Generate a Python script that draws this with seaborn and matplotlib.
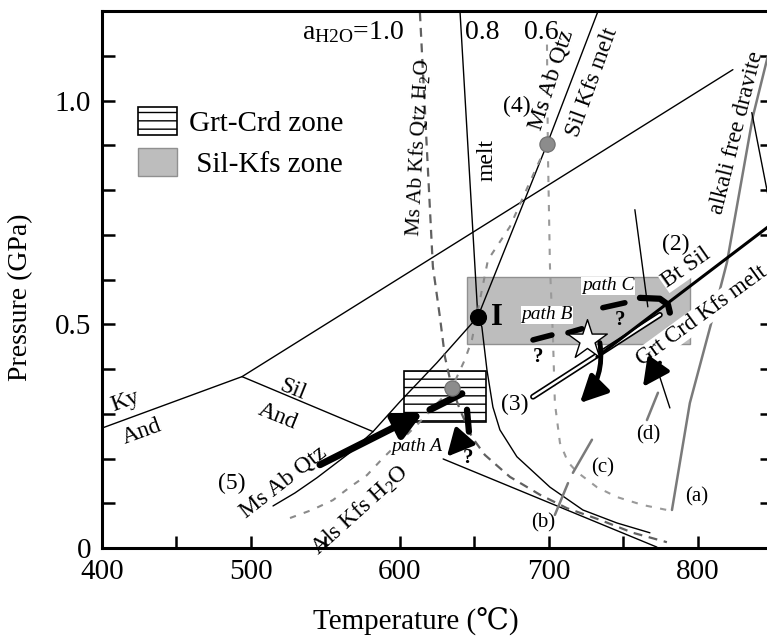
import matplotlib
matplotlib.use('Agg')
import matplotlib.pyplot as plt
import numpy as np
import seaborn as sns
from matplotlib.patches import Rectangle, Patch

# Al2SiO5 triple point lines
ky_and_T = [400, 494]
ky_and_P = [0.268, 0.383]
ky_sil_T = [494, 823.5]
ky_sil_P = [0.383, 1.069]
and_sil_T = [494, 582]
and_sil_P = [0.383, 0.26]
and_sil2_T = [629, 772.5]
and_sil2_P = [0.199, 0.002]

# (5) Ms Ab Qtz = Als Kfs H2O (solid) and (4) Ms Ab Qtz = Sil Kfs melt
ms5_T = [514.8, 529.5, 544.3, 566.4, 581.9, 600.0, 624.8, 640.3, 652.3]
ms5_P = [0.094, 0.123, 0.157, 0.213, 0.260, 0.327, 0.414, 0.472, 0.517]
ms4_T = [652.3, 698.7, 733]
ms4_P = [0.517, 0.902, 1.2]

# same reactions at lower water activity (dashed)
msd_T = [526.2, 540.9, 555.0, 566.4, 577.9, 588.6, 611.4, 634.9, 643.6, 648.3, 659.1, 673.8, 685.9, 698.7]
msd_P = [0.067, 0.085, 0.107, 0.136, 0.163, 0.201, 0.275, 0.358, 0.421, 0.465, 0.644, 0.718, 0.808, 0.902]

# granite solidus for aH2O = 1.0, 0.8, 0.6
sol10_T = [613.4, 622.1, 626.8, 630.2, 634.9, 640.3, 648.3, 657.0, 673.8, 694.0, 712.1, 734.2, 756.4, 779.2]
sol10_P = [1.197, 0.629, 0.517, 0.427, 0.358, 0.309, 0.248, 0.208, 0.159, 0.119, 0.089, 0.063, 0.034, 0.013]
sol08_T = [640.3, 652.3, 655.0, 658.4, 662.4, 667.1, 678.5, 700.7, 722.8, 745.6, 767.8]
sol08_P = [1.2, 0.517, 0.494, 0.398, 0.315, 0.264, 0.204, 0.136, 0.085, 0.056, 0.034]
sol06_T = [698.7, 699.3, 700.7, 702.7, 704.0, 707.4, 712.8, 718.8, 732.2, 745.6, 763.1, 779.2]
sol06_P = [1.125, 0.890, 0.629, 0.472, 0.324, 0.235, 0.192, 0.170, 0.136, 0.114, 0.096, 0.085]

# tourmaline lines (a)-(d) and others
dravite_T = [782.6, 794.6, 810.1, 819.5, 836.9, 850]
dravite_P = [0.085, 0.324, 0.517, 0.638, 0.964, 1.14]
tr_T = [836.2, 850]
tr_P = [0.973, 0.738]
l2_T = [757.7, 766.4]
l2_P = [0.756, 0.539]
ld_T = [768.5, 781.2]
ld_P = [0.443, 0.313]
gd_T = [765.8, 773.2]
gd_P = [0.286, 0.347]
gc_T = [728.9, 716.1]
gc_P = [0.242, 0.168]
gb_T = [712.8, 704.0]
gb_P = [0.145, 0.074]
l3_T = [689.3, 774.5]
l3_P = [0.338, 0.521]
l1_T = [732.2, 850]
l1_P = [0.427, 0.725]

# zones (T0, P0, dT, dP)
grt_crd = [603, 0.282, 55, 0.114]
sil_kfs = [645, 0.455, 149.6, 0.151]

# points
inv_T, inv_P = [652.3], [0.517]
gdot_T, gdot_P = [698.7, 634.9], [0.902, 0.358]
star_T, star_P = [725.5], [0.465]

# P-T paths
pa1_T, pa1_P = [546.3, 615.4], [0.186, 0.302]
pa2_T, pa2_P = [620.1, 641.6], [0.309, 0.345]
pa3_T, pa3_P = [645, 646.3], [0.309, 0.26]
pa4_T, pa4_P = [641.6, 631.5], [0.242, 0.204]
pb1_T, pb1_P = [689.3, 702.0], [0.465, 0.476]
pb2_T, pb2_P = [712.8, 722.1], [0.481, 0.490]
pb3_T, pb3_P = [734.2, 720.8], [0.459, 0.324]
pc1_T, pc1_P = [736.2, 751.0], [0.537, 0.548]
pc2_T, pc2_P = [761.1, 774.5, 779.9, 781.2], [0.559, 0.557, 0.544, 0.526]
pd_T, pd_P = [774.5, 763.1], [0.414, 0.360]

xtick_vals = np.arange(400, 851, 50)
ytick_vals = np.round(np.arange(0, 1.21, 0.1), 1)

sns.set_theme(style='white', rc={'axes.edgecolor': 'black', 'text.color': 'black',
                                 'xtick.color': 'black', 'ytick.color': 'black',
                                 'axes.labelcolor': 'black', 'hatch.linewidth': 1.0})
plt.rcParams['font.family'] = ['Liberation Serif', 'DejaVu Serif', 'DejaVu Sans']
plt.rcParams['mathtext.fontset'] = 'custom'
plt.rcParams['mathtext.rm'] = 'Liberation Serif'
plt.rcParams['mathtext.it'] = 'Liberation Serif:italic'

fig = plt.figure(figsize=(7.67, 6.37), dpi=100)
ax = fig.add_axes([0.133, 0.1397, 0.874, 0.843])


def curve(T, P, color='black', lw=1.0, z=2, **kw):
    sns.lineplot(x=T, y=P, sort=False, estimator=None, color=color, lw=lw,
                 zorder=z, ax=ax, **kw)


def arrow(T, P, lw=4, z=5):
    ax.annotate('', xy=(T[1], P[1]), xytext=(T[0], P[0]), zorder=z,
                arrowprops=dict(arrowstyle='-|>,head_length=0.9,head_width=0.45',
                                lw=lw, color='black', mutation_scale=18,
                                shrinkA=0, shrinkB=0))


def label(T, P, s, rot=0, size=17, **kw):
    ax.text(T, P, s, rotation=rot, rotation_mode='anchor', ha='center',
            va='center', fontsize=size, **kw)


# zones
ax.add_patch(Rectangle((sil_kfs[0], sil_kfs[1]), sil_kfs[2], sil_kfs[3],
                       facecolor='#bdbdbd', edgecolor='#909090', lw=1, zorder=1))
ax.add_patch(Rectangle((grt_crd[0], grt_crd[1]), grt_crd[2], grt_crd[3],
                       facecolor='white', edgecolor='black', hatch='--', lw=1.2, zorder=1))

# thin reaction lines
curve(ky_and_T, ky_and_P)
curve(ky_sil_T, ky_sil_P)
curve(and_sil_T, and_sil_P)
curve(and_sil2_T, and_sil2_P)
curve(ms5_T, ms5_P)
curve(ms4_T, ms4_P)
curve(sol08_T, sol08_P)
curve(sol10_T, sol10_P, color='#606060', lw=1.6, linestyle=(0, (4, 3)))
curve(msd_T, msd_P, color='#8a8a8a', lw=1.5, linestyle=(0, (3, 4)))
curve(sol06_T, sol06_P, color='#9a9a9a', lw=1.5, linestyle=(0, (3, 4)))
curve(dravite_T, dravite_P, color='#7a7a7a', lw=1.8)
curve(tr_T, tr_P)
curve(l2_T, l2_P)
curve(ld_T, ld_P)
curve(gd_T, gd_P, color='#7a7a7a', lw=1.8)
curve(gc_T, gc_P, color='#7a7a7a', lw=1.8)
curve(gb_T, gb_P, color='#7a7a7a', lw=1.8)
curve(l3_T, l3_P, lw=4.2)
curve(l3_T, l3_P, color='white', lw=1.8)
curve(l1_T, l1_P, lw=2.2, z=3.5)

# text labels with white background
wbox = dict(facecolor='white', edgecolor='none', pad=0.5)
label(792.0, 0.626, 'Bt Sil', rot=35, bbox=wbox, zorder=3)
label(802.5, 0.518, 'Grt Crd Kfs melt', rot=36, size=16.5, bbox=wbox, zorder=3)
label(739.6, 0.586, 'path C', size=14, style='italic', bbox=wbox, zorder=3)
label(698.7, 0.521, 'path B', size=14, style='italic', bbox=wbox, zorder=3)
label(611.4, 0.226, 'path A', size=14, style='italic', bbox=wbox, zorder=3)

# P-T paths
curve(pa2_T, pa2_P, lw=5, z=4)
arrow(pa1_T, pa1_P, lw=5)
curve(pa3_T, pa3_P, lw=4.5, z=4)
arrow(pa4_T, pa4_P, lw=3)
curve(pb1_T, pb1_P, lw=4, z=4)
curve(pb2_T, pb2_P, lw=4, z=4)
ax.annotate('', xy=(pb3_T[1], pb3_P[1]), xytext=(pb3_T[0], pb3_P[0]), zorder=5,
            arrowprops=dict(arrowstyle='-|>,head_length=0.9,head_width=0.45', lw=3.5,
                            color='black', mutation_scale=18, shrinkA=0, shrinkB=0,
                            connectionstyle='arc3,rad=-0.25'))
curve(pc1_T, pc1_P, lw=4, z=4)
curve(pc2_T, pc2_P, lw=4.5, z=4)
arrow(pd_T, pd_P, lw=3)

# points
sns.scatterplot(x=inv_T, y=inv_P, s=130, color='black', edgecolor='black', zorder=6, ax=ax)
sns.scatterplot(x=gdot_T, y=gdot_P, s=120, color='#8c8c8c', edgecolor='#707070', zorder=6, ax=ax)
sns.scatterplot(x=star_T, y=star_P, s=900, marker='*', color='white', edgecolor='black',
                linewidth=1, zorder=6, ax=ax)

# plain labels
label(568.5, 1.152, r'a$_{\rm H2O}$=1.0', size=20)
label(655, 1.152, '0.8', size=20)
label(694.6, 1.152, '0.6', size=20)
label(612.1, 0.895, r'Ms Ab Kfs Qtz H$_2$O', rot=87, size=15.5)
label(658.4, 0.868, 'melt', rot=90)
label(678.5, 0.987, '(4)')
label(702, 1.047, 'Ms Ab Qtz', rot=72)
label(728.9, 1.040, 'Sil Kfs melt', rot=70)
label(826.2, 0.928, 'alkali free dravite', rot=76)
label(785.2, 0.678, '(2)')
label(665.1, 0.515, 'I', size=22, weight='bold')
label(677.2, 0.320, '(3)')
label(766.4, 0.253, '(d)', size=15)
label(736.2, 0.179, '(c)', size=15)
label(696.0, 0.056, '(b)', size=15)
label(799.3, 0.114, '(a)', size=15)
label(645.6, 0.201, '?', size=15, weight='bold')
label(692.6, 0.427, '?', size=15, weight='bold')
label(747.7, 0.510, '?', size=15, weight='bold')
label(487.2, 0.145, '(5)')
label(521.5, 0.148, 'Ms Ab Qtz', rot=38)
label(573.2, 0.085, r'Als Kfs H$_2$O', rot=42)
label(415.4, 0.327, 'Ky', rot=20)
label(426.8, 0.260, 'And', rot=20)
label(528.2, 0.353, 'Sil', rot=-22)
label(518.1, 0.293, 'And', rot=-22)

# legend
handles = [Patch(facecolor='white', edgecolor='black', hatch='--', lw=1.2, label='Grt-Crd zone'),
           Patch(facecolor='#bdbdbd', edgecolor='#909090', lw=1, label=' Sil-Kfs zone')]
ax.legend(handles=handles, loc='upper left', bbox_to_anchor=(0.0537, 0.822), frameon=False,
          fontsize=21, handlelength=1.35, handleheight=1.1, handletextpad=0.4,
          labelspacing=0.4, borderpad=0, borderaxespad=0)

# axes
ax.set_xlim(400, 850)
ax.set_ylim(0, 1.2)
ax.set_xticks(xtick_vals)
ax.set_xticklabels([str(int(v)) if v % 100 == 0 else '' for v in xtick_vals])
ax.set_yticks(ytick_vals)
ax.set_yticklabels([{0.0: '0', 0.5: '0.5', 1.0: '1.0'}.get(v, '') for v in ytick_vals])
ax.tick_params(direction='in', length=9, width=1.8, labelsize=21, pad=8,
               right=True, top=False, bottom=True, left=True)
for sp in ax.spines.values():
    sp.set_linewidth(2.2)
    sp.set_color('black')

ax.set_xlabel('Temperature (℃)', fontsize=21)
ax.set_ylabel('Pressure (GPa)', fontsize=20)
ax.xaxis.set_label_coords(0.468, -0.112)
ax.yaxis.set_label_coords(-0.103, 0.467)

fig.savefig('out.png', dpi=100)
